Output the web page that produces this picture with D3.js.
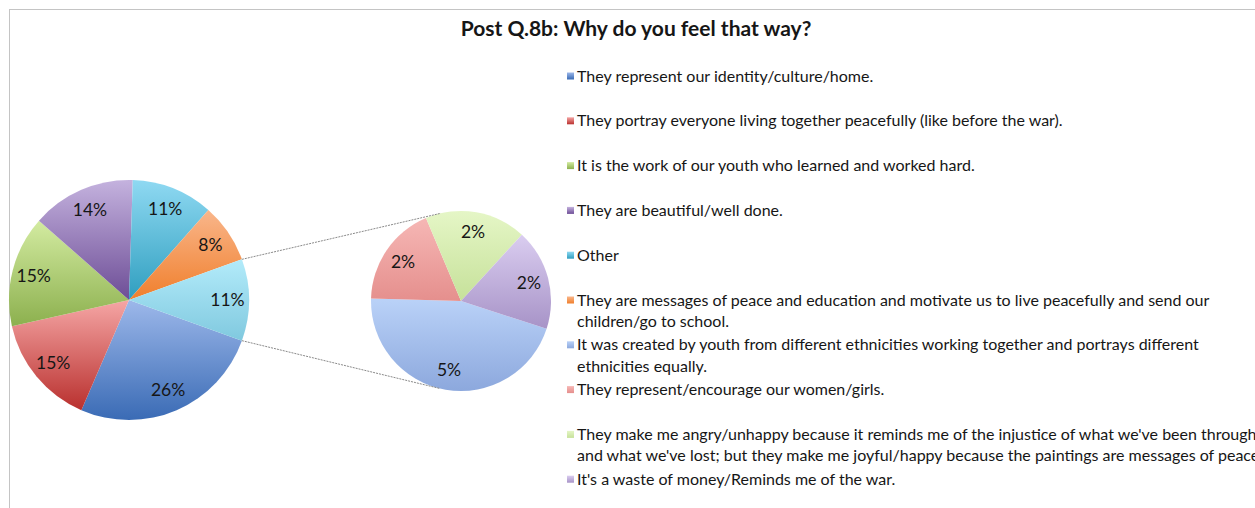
<!DOCTYPE html>
<html>
<head>
<meta charset="utf-8">
<script src="https://cdn.jsdelivr.net/npm/d3@7/dist/d3.min.js"></script>
<style>
  html, body { margin: 0; padding: 0; background: #fff; }
  svg { display: block; }
  text { font-family: Lato, "Noto Sans", sans-serif; fill: #161616; }
</style>
</head>
<body>
<svg id="chart" width="1255" height="508"></svg>
<script>
// Answer categories, in legend order
const categories = [
  "They represent our identity/culture/home.",
  "They portray everyone living together peacefully (like before the war).",
  "It is the work of our youth who learned and worked hard.",
  "They are beautiful/well done.",
  "Other",
  "They are messages of peace and education and motivate us to live peacefully and send our children/go to school.",
  "It was created by youth from different ethnicities working together and portrays different ethnicities equally.",
  "They represent/encourage our women/girls.",
  "They make me angry/unhappy because it reminds me of the injustice of what we've been through and what we've lost; but they make me joyful/happy because the paintings are messages of peace.",
  "It's a waste of money/Reminds me of the war."
];

// How each legend entry breaks into lines
const legendLines = [
  ["They represent our identity/culture/home."],
  ["They portray everyone living together peacefully (like before the war)."],
  ["It is the work of our youth who learned and worked hard."],
  ["They are beautiful/well done."],
  ["Other"],
  ["They are messages of peace and education and motivate us to live peacefully and send our", "children/go to school."],
  ["It was created by youth from different ethnicities working together and portrays different", "ethnicities equally."],
  ["They represent/encourage our women/girls."],
  ["They make me angry/unhappy because it reminds me of the injustice of what we've been through", "and what we've lost; but they make me joyful/happy because the paintings are messages of peace."],
  ["It's a waste of money/Reminds me of the war."]
];

// Percent values: first six shown in the main pie, last four split out
const mainValues = [26, 15, 15, 14, 11, 8];
const splitValues = [5, 2, 2, 2];

// Slice fills, light (top) to dark (bottom)
const colorTop = ["#9db8ea", "#f5a6a5", "#d3eba1", "#c4b2de", "#8fd9f2", "#f9b68b", "#bad2f8", "#f6b7b5", "#e5f6c6", "#dacdf0"];
const colorBottom = ["#3a6bb5", "#b9302e", "#8cb04e", "#6d4d96", "#2f9ebf", "#f07f2c", "#8ca8dd", "#e58f8d", "#c6e19a", "#a793c7"];
const groupTop = "#b3ebfa", groupBottom = "#80c9df";

const W = 1255, H = 508;
const svg = d3.select("#chart");
const defs = svg.append("defs");

function grad(id, c0, c1) {
  const g = defs.append("linearGradient").attr("id", id)
    .attr("x1", 0).attr("y1", 0).attr("x2", 0).attr("y2", 1);
  g.append("stop").attr("offset", "0%").attr("stop-color", c0);
  g.append("stop").attr("offset", "100%").attr("stop-color", c1);
}
categories.forEach((c, i) => grad("g" + i, colorTop[i], colorBottom[i]));
grad("gGroup", groupTop, groupBottom);

// Chart frame
svg.append("rect").attr("x", 9.5).attr("y", 9.5).attr("width", W + 10).attr("height", H + 10)
  .attr("fill", "none").attr("stroke", "#c4c4c4").attr("stroke-width", 1);

// Title
svg.append("text").attr("x", 636).attr("y", 29).attr("dy", "0.35em")
  .attr("text-anchor", "middle").attr("font-size", 21).attr("font-weight", "bold")
  .text("Post Q.8b: Why do you feel that way?");

const deg = Math.PI / 180;
const groupTotal = d3.sum(splitValues);

// Main pie: the grouped slice is centred on the right-hand side
const mainData = mainValues.map((v, i) => ({ v, fill: "url(#g" + i + ")" }))
  .concat([{ v: groupTotal, fill: "url(#gGroup)", group: true }]);
const totalAll = d3.sum(mainData, d => d.v);
const groupSpan = groupTotal / totalAll * 2 * Math.PI;
const mainStart = Math.PI / 2 + groupSpan / 2;

const mainC = { x: 129, y: 300 }, mainR = 120;
const pieMain = d3.pie().sort(null).value(d => d.v)
  .startAngle(mainStart).endAngle(mainStart + 2 * Math.PI);
const arcMain = d3.arc().innerRadius(0).outerRadius(mainR);
const labelMain = d3.arc().innerRadius(mainR * 0.82).outerRadius(mainR * 0.82);
const mainArcs = pieMain(mainData);

const gMain = svg.append("g").attr("transform", `translate(${mainC.x},${mainC.y})`);
gMain.selectAll("path").data(mainArcs).join("path")
  .attr("d", arcMain).attr("fill", d => d.data.fill);
gMain.selectAll("text").data(mainArcs).join("text")
  .attr("transform", d => `translate(${labelMain.centroid(d)})`)
  .attr("text-anchor", "middle").attr("dy", "0.35em").attr("font-size", 17.5)
  .text(d => d.data.v + "%");

// Secondary pie for the split-out answers
const subC = { x: 461, y: 301 }, subR = 90;
const subStart = 108 * deg;
const pieSub = d3.pie().sort(null).value(d => d.v)
  .startAngle(subStart).endAngle(subStart + 2 * Math.PI);
const arcSub = d3.arc().innerRadius(0).outerRadius(subR);
const labelSub = d3.arc().innerRadius(subR * 0.78).outerRadius(subR * 0.78);
const subArcs = pieSub(splitValues.map((v, i) => ({ v, fill: "url(#g" + (i + 6) + ")" })));

const gSub = svg.append("g").attr("transform", `translate(${subC.x},${subC.y})`);
gSub.selectAll("path").data(subArcs).join("path")
  .attr("d", arcSub).attr("fill", d => d.data.fill);
gSub.selectAll("text").data(subArcs).join("text")
  .attr("transform", d => `translate(${labelSub.centroid(d)})`)
  .attr("text-anchor", "middle").attr("dy", "0.35em").attr("font-size", 17.5)
  .text(d => d.data.v + "%");

// Connector lines: from the grouped slice's edges, tangent to the secondary pie
const grp = mainArcs.find(d => d.data.group);
function edgePoint(a) { return [mainC.x + mainR * Math.sin(a), mainC.y - mainR * Math.cos(a)]; }
function tangent(p, side) {
  const dx = subC.x - p[0], dy = subC.y - p[1];
  const d = Math.hypot(dx, dy);
  const base = Math.atan2(dy, dx);
  const off = Math.asin(subR / d);
  const len = Math.sqrt(d * d - subR * subR);
  const a = base + side * off;
  return [p[0] + len * Math.cos(a), p[1] + len * Math.sin(a)];
}
const pTop = edgePoint(grp.startAngle), pBot = edgePoint(grp.endAngle);
[[pTop, tangent(pTop, -1)], [pBot, tangent(pBot, 1)]].forEach(([a, b]) => {
  svg.append("line").attr("x1", a[0]).attr("y1", a[1]).attr("x2", b[0]).attr("y2", b[1])
    .attr("stroke", "#8a8a8a").attr("stroke-width", 1).attr("stroke-dasharray", "2,1");
});

// Legend
const legY0 = 76, legStep = 44.8, lineH = 21.5;
const leg = svg.append("g");
const items = leg.selectAll("g").data(legendLines).join("g")
  .attr("transform", (d, i) => `translate(567,${legY0 + i * legStep})`);
items.append("rect").attr("x", 0).attr("y", -3.5).attr("width", 7).attr("height", 7)
  .attr("fill", (d, i) => `url(#g${i})`);
items.each(function (lines) {
  const t = d3.select(this).append("text").attr("x", 10).attr("font-size", 16);
  lines.forEach((ln, k) => {
    t.append("tspan").attr("x", 10).attr("y", k * lineH).attr("dy", "0.35em").text(ln);
  });
});
</script>
</body>
</html>
